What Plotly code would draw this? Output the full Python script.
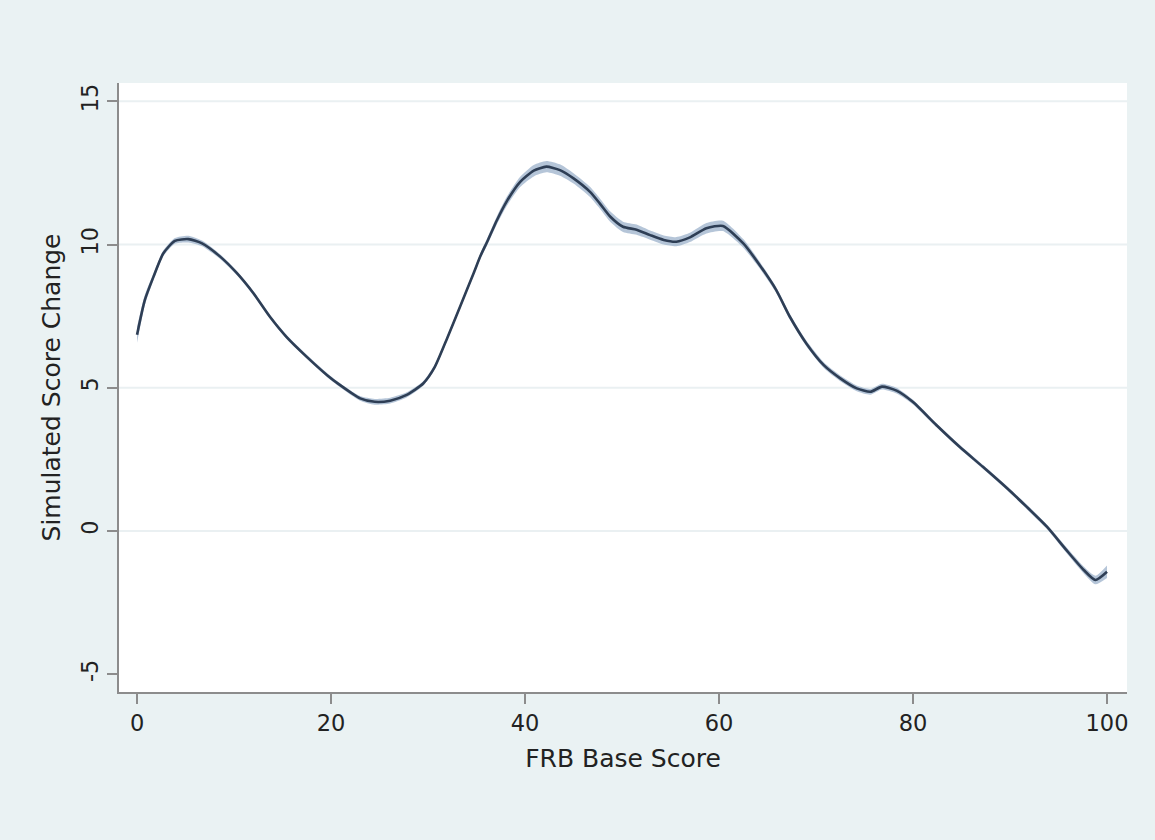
import plotly.graph_objects as go

# Data
x_vals = [0, 0.8, 1.7, 2.7, 3.9, 5.3, 6.7, 8.6, 10.3, 12.0, 13.7, 15.4, 17.5, 19.6,
          20.9, 23.0, 24.5, 26.1, 27.8, 29.5, 30.7, 31.9, 33.3, 34.7, 35.4, 36.1,
          37.1, 38.1, 39.5, 40.9, 42.2, 43.6, 45.0, 46.7, 47.7, 48.8, 50.1, 51.5,
          52.9, 54.3, 55.6, 57.0, 58.7, 60.4, 62.5, 64.2, 65.9, 67.3, 69.0, 70.8,
          72.5, 74.2, 75.6, 76.8, 78.3, 80.0, 82.4, 84.8, 87.2, 89.7, 91.7, 93.8,
          95.8, 97.6, 98.8, 100]
y_vals = [6.85, 8.06, 8.88, 9.69, 10.13, 10.19, 10.04, 9.57, 9.0, 8.3, 7.48, 6.78,
          6.08, 5.44, 5.1, 4.63, 4.51, 4.55, 4.75, 5.15, 5.73, 6.67, 7.83, 9.0, 9.6,
          10.1, 10.85, 11.5, 12.19, 12.58, 12.72, 12.6, 12.31, 11.84, 11.44, 10.97,
          10.62, 10.52, 10.33, 10.16, 10.1, 10.25, 10.57, 10.65, 10.04, 9.28, 8.41,
          7.48, 6.55, 5.79, 5.33, 4.98, 4.86, 5.04, 4.9, 4.5, 3.70, 2.94, 2.24, 1.49,
          0.85, 0.15, -0.66, -1.36, -1.71, -1.42]
ci_half = [0.28, 0.18, 0.12, 0.1, 0.1, 0.12, 0.1, 0.08, 0.07, 0.07, 0.07, 0.07,
           0.07, 0.07, 0.07, 0.08, 0.1, 0.1, 0.09, 0.08, 0.08, 0.08, 0.08, 0.08, 0.1,
           0.12, 0.14, 0.16, 0.18, 0.2, 0.2, 0.2, 0.18, 0.18, 0.18, 0.18, 0.18, 0.18,
           0.16, 0.16, 0.16, 0.16, 0.18, 0.18, 0.15, 0.12, 0.1, 0.1, 0.1, 0.1, 0.1,
           0.1, 0.1, 0.1, 0.1, 0.08, 0.07, 0.07, 0.07, 0.07, 0.08, 0.08, 0.1, 0.12,
           0.15, 0.22]

x_ticks = [0, 20, 40, 60, 80, 100]
y_ticks = [-5, 0, 5, 10, 15]
y_tick_labels = ["-5", "0", "5", "10", "15"]
grid_vals = [0, 5, 10, 15]

x_title = "FRB Base Score"
y_title = "Simulated Score Change"

lower = [y - h for y, h in zip(y_vals, ci_half)]
upper = [y + h for y, h in zip(y_vals, ci_half)]

fig = go.Figure()
fig.add_trace(go.Scatter(x=x_vals, y=lower, mode="lines", line=dict(width=0, shape="spline", smoothing=0.6),
                         hoverinfo="skip", showlegend=False))
fig.add_trace(go.Scatter(x=x_vals, y=upper, mode="lines", line=dict(width=0, shape="spline", smoothing=0.6),
                         fill="tonexty", fillcolor="rgba(150,172,200,0.7)", hoverinfo="skip", showlegend=False))
fig.add_trace(go.Scatter(x=x_vals, y=y_vals, mode="lines",
                         line=dict(color="#2e3e55", width=2.6, shape="spline", smoothing=0.6),
                         showlegend=False))

for v in grid_vals:
    fig.add_shape(type="line", xref="paper", x0=0, x1=1, yref="y", y0=v, y1=v,
                  line=dict(color="#eaf0f2", width=2), layer="below")

axis_color = "#8c8c8c"
fig.update_layout(
    width=1155, height=840,
    paper_bgcolor="#eaf2f3", plot_bgcolor="white",
    margin=dict(l=119, r=28, t=83, b=148),
    showlegend=False,
    font=dict(family="DejaVu Sans", color="#222222"),
    xaxis=dict(range=[-1.86, 102.06], tickvals=x_ticks, showgrid=False, zeroline=False,
               showline=True, linecolor=axis_color, linewidth=2,
               ticks="outside", ticklen=10, tickwidth=2, tickcolor=axis_color,
               tickfont=dict(size=22.5),
               title=dict(text=x_title, font=dict(size=25), standoff=14)),
    yaxis=dict(range=[-5.62, 15.64], tickvals=y_ticks, ticktext=y_tick_labels,
               showgrid=False, zeroline=False,
               showline=True, linecolor=axis_color, linewidth=2,
               ticks="outside", ticklen=10, tickwidth=2, tickcolor=axis_color,
               tickangle=-90, tickfont=dict(size=22.5),
               title=dict(text=y_title, font=dict(size=25), standoff=9)),
)

fig.write_html("out.html",
               config={"displayModeBar": False},
               post_script="document.body.style.margin='0';document.body.style.padding='0';"
                           "document.body.style.background='#eaf2f3';")
